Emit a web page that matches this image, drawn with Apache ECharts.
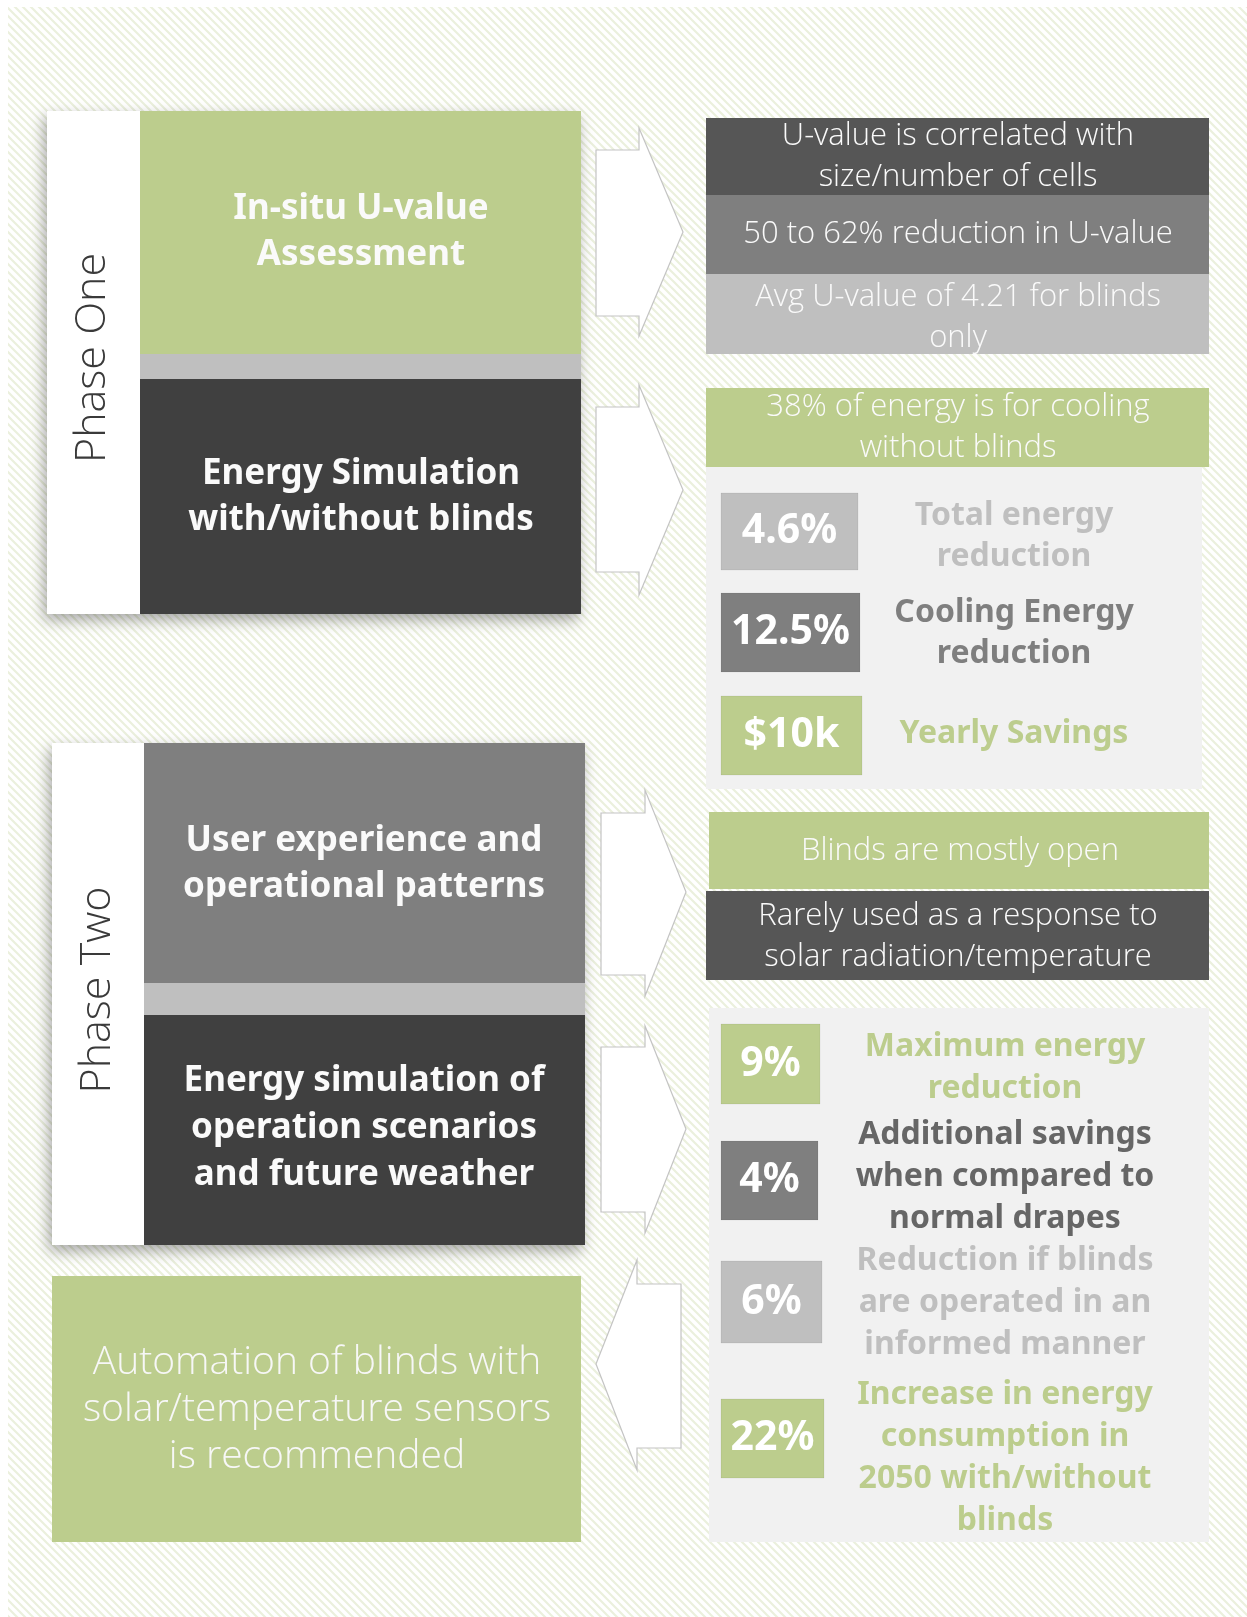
<!DOCTYPE html>
<html>
<head>
<meta charset="utf-8">
<script src="https://cdn.jsdelivr.net/npm/echarts@6/dist/echarts.min.js"></script>
<style>
  html, body { margin: 0; padding: 0; background: #fff; }
  #main { width: 1247px; height: 1617px; }
</style>
</head>
<body>
<div id="main"></div>
<script>
// text content of the infographic
const phases = ['Phase One', 'Phase Two'];
const phaseOneSteps = ['In-situ U-value\nAssessment', 'Energy Simulation\nwith/without blinds'];
const phaseTwoSteps = ['User experience and\noperational patterns', 'Energy simulation of\noperation scenarios\nand future weather'];
const uvalueFindings = ['U-value is correlated with\nsize/number of cells', '50 to 62% reduction in U-value', 'Avg U-value of 4.21 for blinds\nonly'];
const coolingNote = ['38% of energy is for cooling\nwithout blinds'];
const simValues = ['4.6%', '12.5%', '$10k'];
const simLabels = ['Total energy\nreduction', 'Cooling Energy\nreduction', 'Yearly Savings'];
const usageFindings = ['Blinds are mostly open', 'Rarely used as a response to\nsolar radiation/temperature'];
const scenarioValues = ['9%', '4%', '6%', '22%'];
const scenarioLabels = ['Maximum energy\nreduction', 'Additional savings\nwhen compared to\nnormal drapes', 'Reduction if blinds\nare operated in an\ninformed manner', 'Increase in energy\nconsumption in\n2050 with/without\nblinds'];
const recommendation = ['Automation of blinds with\nsolar/temperature sensors\nis recommended'];

const GREEN = '#bccd8d', DARK = '#404040', DARK2 = '#565656', MID = '#7f7f7f', LIGHT = '#bfbfbf', PANEL = '#f1f1f1';
const BOLD = '"Noto Sans", "DejaVu Sans", sans-serif';
const THIN = '"Open Sans", "Lato", "Noto Sans", sans-serif';

// stripe tile for the background
function stripes() {
  const c = document.createElement('canvas');
  c.width = 8; c.height = 8;
  const g = c.getContext('2d');
  g.fillStyle = '#ffffff'; g.fillRect(0, 0, 8, 8);
  g.strokeStyle = '#ebf0dd'; g.lineWidth = 2.2;
  g.beginPath();
  g.moveTo(-2, -2); g.lineTo(10, 10);
  g.moveTo(-10, -2); g.lineTo(2, 10);
  g.moveTo(6, -2); g.lineTo(18, 10);
  g.stroke();
  return c;
}

function rect(x1, y1, x2, y2, fill, extra) {
  return Object.assign({
    type: 'rect', shape: { x: x1, y: y1, width: x2 - x1, height: y2 - y1 },
    style: { fill: fill }
  }, extra || {});
}
function text(str, x, y, size, color, font, weight, lh, extra) {
  return Object.assign({
    type: 'text', x: x, y: y,
    style: {
      text: str, fill: color, fontSize: size, fontFamily: font, fontWeight: weight,
      lineHeight: lh, textAlign: 'center', textVerticalAlign: 'middle',
      align: 'center', verticalAlign: 'middle'
    }
  }, extra || {});
}
// block arrow: rect part x1..x2, y r1..r2, head h1..h2, tip at (tx, ty)
function arrow(x1, x2, r1, r2, h1, h2, tx, ty, left) {
  let pts;
  if (!left) {
    pts = [[x1, r1], [x2, r1], [x2, h1], [tx, ty], [x2, h2], [x2, r2], [x1, r2]];
  } else {
    pts = [[x2, r1], [x1, r1], [x1, h1], [tx, ty], [x1, h2], [x1, r2], [x2, r2]];
  }
  return { type: 'polygon', shape: { points: pts }, style: { fill: '#fff', stroke: '#c4c4c4', lineWidth: 1.2 } };
}

const els = [];
els.push(rect(8, 7, 1247, 1617, { image: stripes(), repeat: 'repeat' }));

const shadow = { shadowBlur: 14, shadowColor: 'rgba(0,0,0,0.35)', shadowOffsetX: -3, shadowOffsetY: 6 };

// Phase One block
els.push(rect(47, 111, 581, 614, '#fff', { style: Object.assign({ fill: '#fff' }, shadow) }));
els.push(rect(140, 111, 581, 354, GREEN));
els.push(rect(140, 354, 581, 379, LIGHT));
els.push(rect(140, 379, 581, 614, DARK));
els.push(text(phases[0], 93, 358, 43, '#3a3a3a', THIN, 300, 50, { rotation: Math.PI / 2 }));
els.push(text(phaseOneSteps[0], 361, 232, 35, '#fafafa', BOLD, 'bold', 46));
els.push(text(phaseOneSteps[1], 361, 497, 35, '#fafafa', BOLD, 'bold', 46));

// Phase Two block
els.push(rect(52, 743, 585, 1245, '#fff', { style: Object.assign({ fill: '#fff' }, shadow) }));
els.push(rect(144, 743, 585, 983, MID));
els.push(rect(144, 983, 585, 1015, LIGHT));
els.push(rect(144, 1015, 585, 1245, DARK));
els.push(text(phases[1], 98, 990, 43, '#3a3a3a', THIN, 300, 50, { rotation: Math.PI / 2 }));
els.push(text(phaseTwoSteps[0], 364, 864, 35, '#fafafa', BOLD, 'bold', 46));
els.push(text(phaseTwoSteps[1], 364, 1128, 35, '#fafafa', BOLD, 'bold', 47));

// recommendation
els.push(rect(52, 1276, 581, 1542, GREEN));
els.push(text(recommendation[0], 317, 1410, 39, '#f7f7f7', THIN, 300, 47));

// arrows
els.push(arrow(596, 639, 150, 316, 128, 336, 683, 232));
els.push(arrow(596, 639, 407, 572, 385, 595, 683, 490));
els.push(arrow(601, 645, 813, 975, 790, 996, 686, 892));
els.push(arrow(601, 645, 1047, 1212, 1026, 1233, 686, 1129));
els.push(arrow(637, 681, 1284, 1448, 1260, 1470, 596, 1364, true));

// U-value findings
const uBands = [[118, 195, DARK2], [195, 274, MID], [274, 354, LIGHT]];
uvalueFindings.forEach(function (t, i) {
  const b = uBands[i];
  els.push(rect(706, b[0], 1209, b[1], b[2]));
  els.push(text(t, 958, (b[0] + b[1]) / 2 + (i === 2 ? 4 : 0), 31, '#fafafa', THIN, 300, 41));
});

// cooling note + simulation panel
els.push(rect(706, 388, 1209, 467, GREEN));
els.push(text(coolingNote[0], 958, 428, 31, '#fafafa', THIN, 300, 41));
els.push(rect(706, 467, 1202, 789, PANEL));
const simBoxes = [[493, 570, 858, LIGHT, 536], [593, 672, 860, MID, 633], [696, 775, 862, GREEN, 734]];
simValues.forEach(function (v, i) {
  const b = simBoxes[i];
  els.push(rect(721, b[0], b[2], b[1], b[3], { style: { fill: b[3], stroke: 'rgba(0,0,0,0.06)', lineWidth: 1 } }));
  els.push(text(v, (721 + b[2]) / 2, (b[0] + b[1]) / 2, 41, '#fff', BOLD, 'bold', 46));
  els.push(text(simLabels[i], 1014, b[4], 32, b[3], BOLD, 'bold', 41));
});

// phase two findings
els.push(rect(709, 812, 1209, 889, GREEN));
els.push(text(usageFindings[0], 960, 851, 31, '#fafafa', THIN, 300, 41));
els.push(rect(706, 891, 1209, 980, DARK2));
els.push(text(usageFindings[1], 958, 937, 31, '#fafafa', THIN, 300, 41));

els.push(rect(709, 1008, 1209, 1542, PANEL));
const scBoxes = [[1024, 1104, 820, GREEN, 1068, GREEN], [1141, 1220, 818, MID, 1177, '#666666'],
                 [1261, 1343, 822, LIGHT, 1303, LIGHT], [1399, 1478, 824, GREEN, 1458, GREEN]];
scenarioValues.forEach(function (v, i) {
  const b = scBoxes[i];
  els.push(rect(721, b[0], b[2], b[1], b[3], { style: { fill: b[3], stroke: 'rgba(0,0,0,0.06)', lineWidth: 1 } }));
  els.push(text(v, (721 + b[2]) / 2, (b[0] + b[1]) / 2, 41, '#fff', BOLD, 'bold', 46));
  els.push(text(scenarioLabels[i], 1005, b[4], 32, b[5], BOLD, 'bold', 42));
});

const chart = echarts.init(document.getElementById('main'), null, { renderer: 'canvas' });
chart.setOption({
  backgroundColor: '#fff',
  animation: false,
  graphic: { elements: els }
});
</script>
</body>
</html>
